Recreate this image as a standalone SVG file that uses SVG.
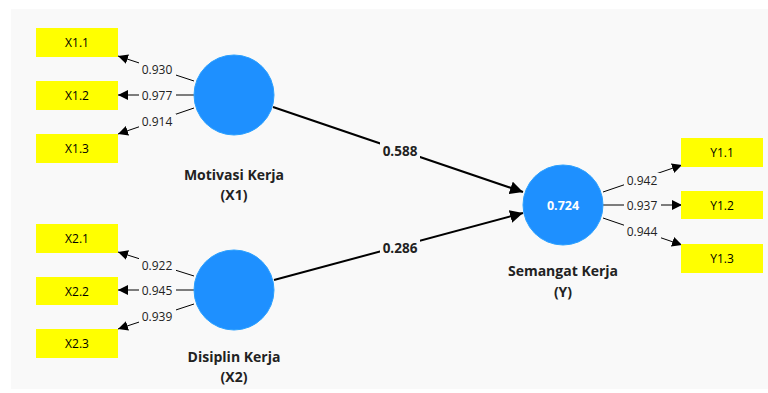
<svg xmlns="http://www.w3.org/2000/svg" width="768" height="393" viewBox="0 0 768 393">
<defs>
<marker id="ah" viewBox="0 0 10 10" refX="10" refY="5" markerWidth="10" markerHeight="10" markerUnits="userSpaceOnUse" orient="auto"><path d="M0,0 L10,5 L0,10 z" fill="#000"/></marker>
<marker id="ahb" viewBox="0 0 10 10" refX="10" refY="5" markerWidth="13" markerHeight="13" markerUnits="userSpaceOnUse" orient="auto"><path d="M0,0 L10,5 L0,10 z" fill="#000"/></marker>
</defs>
<style>
.box{fill:#ffff00}
.bt{font-family:"Open Sans","Noto Sans",sans-serif;font-size:12px;fill:#000;text-anchor:middle}
.lv{fill:#1e90ff;stroke:#2aa0ff;stroke-width:1}
.lt{font-family:"Open Sans","Noto Sans",sans-serif;font-size:14px;font-weight:bold;fill:#222;text-anchor:middle}
.ol{stroke:#000;stroke-width:1;fill:none;marker-end:url(#ah)}
.pl{stroke:#000;stroke-width:2;fill:none;marker-end:url(#ahb)}
.wl{font-family:"Open Sans","Noto Sans",sans-serif;font-size:12px;fill:#222;text-anchor:middle}
.pw{font-family:"Open Sans","Noto Sans",sans-serif;font-size:13.5px;font-weight:bold;fill:#222;text-anchor:middle}
.bg{fill:#f9f9f9}
.lbg{fill:#f9f9f9}
</style>
<rect class="bg" x="11" y="9" width="757" height="380"/>
<g id="connectors">
<line class="ol" x1="194" y1="81" x2="118" y2="56"/>
<line class="ol" x1="194" y1="95" x2="118" y2="95"/>
<line class="ol" x1="194" y1="108" x2="118" y2="134"/>
<line class="ol" x1="194" y1="276" x2="118" y2="252"/>
<line class="ol" x1="194" y1="290" x2="118" y2="290"/>
<line class="ol" x1="194" y1="304" x2="118" y2="329"/>
<line class="ol" x1="603" y1="192" x2="682" y2="165"/>
<line class="ol" x1="603" y1="205" x2="682" y2="205"/>
<line class="ol" x1="603" y1="218" x2="682" y2="245"/>
<line class="pl" x1="273" y1="107" x2="523" y2="192"/>
<line class="pl" x1="274" y1="280" x2="523" y2="213"/>
<rect class="lbg" x="139" y="62" width="37" height="15"/>
<rect class="lbg" x="139" y="88" width="37" height="15"/>
<rect class="lbg" x="139" y="114" width="37" height="15"/>
<rect class="lbg" x="139" y="258" width="37" height="15"/>
<rect class="lbg" x="139" y="283" width="37" height="15"/>
<rect class="lbg" x="139" y="309" width="37" height="15"/>
<rect class="lbg" x="624" y="173" width="37" height="15"/>
<rect class="lbg" x="624" y="198" width="37" height="15"/>
<rect class="lbg" x="624" y="224" width="37" height="15"/>
<rect class="lbg" x="380" y="142" width="40" height="17"/>
<rect class="lbg" x="380" y="239" width="40" height="17"/>
<text class="wl" x="157" y="74">0.930</text>
<text class="wl" x="157" y="100">0.977</text>
<text class="wl" x="157" y="126">0.914</text>
<text class="wl" x="157" y="270">0.922</text>
<text class="wl" x="157" y="295">0.945</text>
<text class="wl" x="157" y="321">0.939</text>
<text class="wl" x="642" y="185">0.942</text>
<text class="wl" x="642" y="210">0.937</text>
<text class="wl" x="642" y="236">0.944</text>
<text class="pw" x="400" y="156">0.588</text>
<text class="pw" x="400" y="253">0.286</text>
</g>
<g id="X1.1"><rect class="box" x="36" y="28" width="82" height="29"/><text class="bt" x="77" y="47">X1.1</text></g>
<g id="X1.2"><rect class="box" x="36" y="81" width="82" height="29"/><text class="bt" x="77" y="100">X1.2</text></g>
<g id="X1.3"><rect class="box" x="36" y="134" width="82" height="29"/><text class="bt" x="77" y="153">X1.3</text></g>
<g id="X2.1"><rect class="box" x="36" y="224" width="82" height="29"/><text class="bt" x="77" y="243">X2.1</text></g>
<g id="X2.2"><rect class="box" x="36" y="277" width="82" height="28"/><text class="bt" x="77" y="296">X2.2</text></g>
<g id="X2.3"><rect class="box" x="36" y="329" width="82" height="29"/><text class="bt" x="77" y="348">X2.3</text></g>
<g id="Y1.1"><rect class="box" x="681" y="138" width="82" height="29"/><text class="bt" x="722" y="157">Y1.1</text></g>
<g id="Y1.2"><rect class="box" x="681" y="191" width="82" height="28"/><text class="bt" x="722" y="210">Y1.2</text></g>
<g id="Y1.3"><rect class="box" x="681" y="244" width="82" height="29"/><text class="bt" x="722" y="263">Y1.3</text></g>
<g id="X1"><circle class="lv" cx="234" cy="95" r="40"/><text class="lt" x="234" y="180">Motivasi Kerja</text><text class="lt" x="234" y="200">(X1)</text></g>
<g id="X2"><circle class="lv" cx="234" cy="290" r="40"/><text class="lt" x="234" y="362">Disiplin Kerja</text><text class="lt" x="234" y="382">(X2)</text></g>
<g id="Y"><circle class="lv" cx="563" cy="205" r="40"/><text class="lt" x="563" y="210" style="fill:#fff;font-size:12.5px">0.724</text><text class="lt" x="563" y="276">Semangat Kerja</text><text class="lt" x="563" y="297">(Y)</text></g>
</svg>
